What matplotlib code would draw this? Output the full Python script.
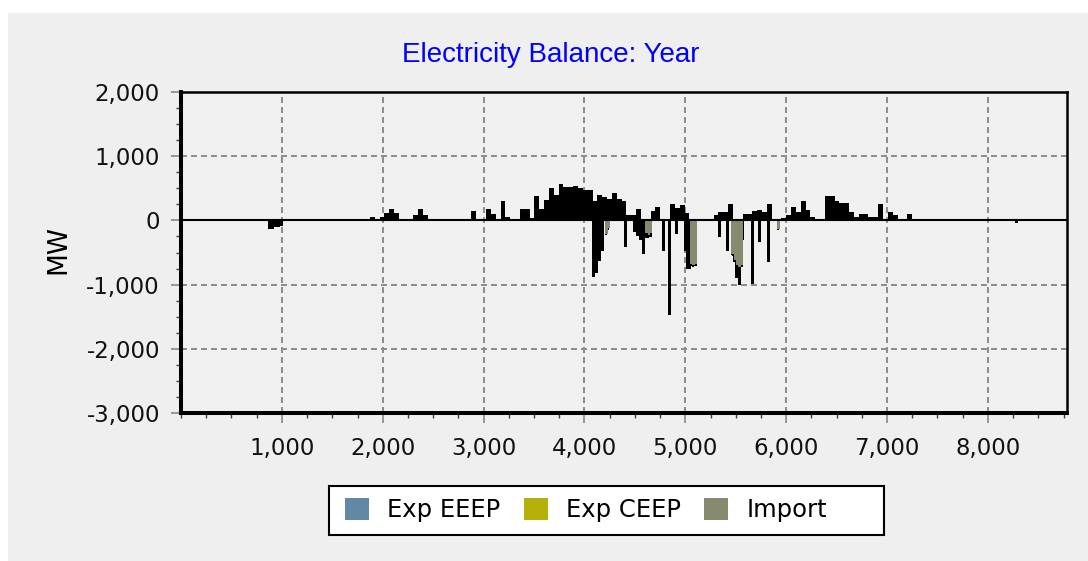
import matplotlib
matplotlib.use("Agg")
import matplotlib.pyplot as plt
from matplotlib.patches import Patch, Rectangle
from matplotlib.ticker import MultipleLocator, FuncFormatter
import numpy as np

# export above zero, one value per 48 hour block of the year (MW)
bin_len = 48
exp_mw = [
    0, 0, 0, 0, 0, 0, 0, 0, 0, 0,
    0, 0, 0, 0, 0, 0, 0, 0, 0, 0,
    0, 0, 0, 0, 0, 0, 0, 0, 0, 0,
    0, 0, 0, 0, 0, 0, 0, 0, 0, 50,
    0, 50, 120, 170, 120, 0, 0, 0, 80, 170,
    80, 0, 0, 0, 0, 0, 0, 0, 0, 0,
    140, 0, 0, 185, 100, 0, 300, 50, 0, 0,
    185, 180, 30, 375, 180, 320, 500, 400, 560, 520,
    520, 530, 510, 470, 480, 300, 400, 370, 330, 420,
    330, 300, 90, 80, 180, 0, 0, 150, 210, 0,
    0, 250, 200, 240, 120, 0, 0, 0, 0, 0,
    80, 130, 130, 260, 0, 0, 100, 100, 150, 165,
    130, 260, 0, 0, 30, 80, 210, 130, 300, 160,
    50, 20, 0, 375, 375, 300, 270, 270, 130, 50,
    100, 100, 50, 50, 260, 0, 130, 80, 0, 0,
    100, 0, 0, 0, 0, 0, 0, 0, 0, 0,
    0, 0, 0, 0, 0, 0, 0, 0, 0, 0,
    0, 0, 0, 0, 0, 0, 0, 0, 0, 0,
    0, 0, 0,
]

# short negative spikes (hour of year, MW)
dip_hour = [880, 910, 940, 970, 1000, 4090, 4120, 4150, 4180, 4410,
            4500, 4530, 4560, 4590, 4620, 4650, 4780, 4845, 4915, 5000,
            5020, 5045, 5070, 5340, 5420, 5480, 5510, 5540, 5570, 5670,
            5740, 5820, 8285]
dip_mw = [-140, -140, -100, -100, -90, -880, -820, -640, -480, -415,
          -180, -250, -310, -520, -280, -260, -470, -1480, -210, -470,
          -750, -760, -700, -260, -470, -560, -900, -1010, -310, -985,
          -340, -650, -40]

# import blocks (hour of year, MW), 24 hour steps
imp_hour = [4200, 4224, 4596, 4620, 4644, 5040, 5064, 5088,
            5448, 5472, 5496, 5520, 5544, 5904]
imp_mw = [-210, -120, -200, -230, -200, -680, -700, -680,
          -520, -620, -700, -730, -700, -130]

legend_labels = ["Exp EEEP", "Exp CEEP", "Import"]
legend_colors = ["#6289a3", "#b5b00a", "#878a6e"]

plt.rcParams["lines.scale_dashes"] = False

W, H = 1088, 561
fig = plt.figure(figsize=(W / 100, H / 100), dpi=100, facecolor="white")

# grey panel behind everything
fig.patches.append(Rectangle((8 / W, 0), 1 - 8 / W, 1 - 13 / H, transform=fig.transFigure,
                             facecolor="#efefef", edgecolor="none", zorder=-10))

ax = fig.add_axes([181 / W, 1 - 413 / H, (1067 - 181) / W, (413 - 92) / H])
ax.set_facecolor("#f0f0f0")

edges = np.arange(len(exp_mw) + 1) * bin_len
ax.stairs(exp_mw, edges, fill=True, baseline=0, color="black", linewidth=0, zorder=3)
ax.bar(dip_hour, dip_mw, width=30, color="black", linewidth=0, zorder=3)
# import: black rim slightly larger, khaki fill on top
ax.bar(imp_hour, np.array(imp_mw) - 25, width=24, align="edge", color="black",
       linewidth=0, antialiased=False, zorder=4)
ax.bar(np.array(imp_hour) + 6, imp_mw, width=24, align="edge", color=legend_colors[2],
       linewidth=0, antialiased=False, zorder=4)
ax.axhline(0, color="black", lw=1.5, zorder=5)

ax.set_xlim(0, 8784)
ax.set_ylim(-3000, 2000)
ax.set_xticks(range(1000, 9000, 1000))
ax.set_yticks(range(-3000, 2001, 1000))
ax.xaxis.set_minor_locator(MultipleLocator(250))
ax.yaxis.set_minor_locator(MultipleLocator(250))
fmt = FuncFormatter(lambda v, p: f"{v:,.0f}")
ax.xaxis.set_major_formatter(fmt)
ax.yaxis.set_major_formatter(fmt)

ax.grid(True, which="major", color="#8c8c8c", linestyle=(0, (4.3, 2.9)), lw=1.4, zorder=1)
ax.set_axisbelow(True)

ax.tick_params(which="major", direction="out", length=7.2, width=1.1, color="#808080",
               labelsize=16.5, labelcolor="#111111")
ax.tick_params(axis="y", which="major", pad=8)
ax.tick_params(axis="x", which="major", pad=10)
ax.tick_params(which="minor", direction="out", length=3.6, width=1, color="#404040")

for side in ["left", "bottom"]:
    ax.spines[side].set_linewidth(2.9)
for side in ["top", "right"]:
    ax.spines[side].set_linewidth(1.8)

fig.text(551 / W, 1 - 55 / H, "Electricity Balance: Year", ha="center", va="center",
         color="#0000ff", fontsize=20, family="Liberation Sans")
fig.text(58 / W, 1 - 249 / H, "MW", rotation=90, ha="center", va="center", fontsize=19)

# legend box
fig.patches.append(Rectangle((329 / W, 1 - 535 / H), (884 - 329) / W, (535 - 486) / H,
                             transform=fig.transFigure, facecolor="white",
                             edgecolor="black", lw=1.5, zorder=5))
handles = [Patch(facecolor=c, edgecolor="none") for c in legend_colors]
leg = fig.legend(handles, legend_labels, loc="center left", ncol=3,
                 bbox_to_anchor=(345 / W, 1 - 510 / H), frameon=False,
                 fontsize=17.5, handlelength=1.0, handleheight=1.0,
                 handletextpad=0.74, columnspacing=0.95, borderpad=0, borderaxespad=0)
leg.set_zorder(6)

fig.savefig("out.png", dpi=100, facecolor=fig.get_facecolor())
